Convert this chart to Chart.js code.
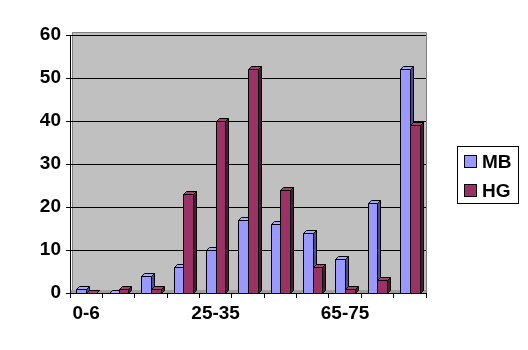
<!DOCTYPE html>
<html>
<head>
<meta charset="utf-8">
<script src="https://cdn.jsdelivr.net/npm/chart.js@4"></script>
<style>
html,body{margin:0;padding:0;background:#fff;}
#wrap{width:528px;height:350px;}
</style>
</head>
<body>
<div id="wrap"><canvas id="c" width="528" height="350"></canvas></div>
<script>
const categories = ["0-6","6-12","12-18","18-25","25-35","35-45","45-55","55-65","65-75","75-85","85+"];
const shownLabels = ["0-6","25-35","65-75"];
const mbValues = [1,0,4,6,10,17,16,14,8,21,52];
const hgValues = [0,1,1,23,40,52,24,6,1,3,39];
const yTicks = [0,10,20,30,40,50,60];

const FONT = "'Liberation Sans', Arial, sans-serif";
const DEPTH = 3;

const styles = {
  MB: {front:'#9999FF', top:'#A8A8FF', side:'#4D4D8F'},
  HG: {front:'#993366', top:'#A3416F', side:'#4D1A33'}
};

const bgPlugin = {
  id:'bg',
  beforeDraw(chart){
    const {ctx, chartArea:a} = chart;
    ctx.save();
    ctx.fillStyle = '#C0C0C0';
    ctx.fillRect(a.left+2, a.top-3, a.right-a.left-2, a.bottom-a.top+3);
    ctx.strokeStyle = '#808080';
    ctx.lineWidth = 1;
    ctx.beginPath();
    ctx.moveTo(a.left+2.5, a.bottom);
    ctx.lineTo(a.left+2.5, a.top-2.5);
    ctx.lineTo(a.right+0.5, a.top-2.5);
    ctx.lineTo(a.right+0.5, a.bottom);
    ctx.stroke();
    ctx.fillStyle = '#A0A0A0';
    ctx.fillRect(a.left, a.bottom-3, a.right-a.left, 3);
    ctx.restore();
  }
};

function drawBar3D(ctx, bar, st){
  const p = bar.getProps(['x','y','base','width'], true);
  const l = Math.round(p.x - p.width/2)+0.5, r = Math.round(p.x + p.width/2)+0.5;
  const t = Math.round(p.y)+0.5, b = Math.round(p.base)+0.5;
  const d = DEPTH;
  ctx.fillStyle = st.front;
  ctx.beginPath();
  ctx.rect(l, t, r-l, b-t);
  ctx.fill(); ctx.stroke();
  ctx.fillStyle = st.top;
  ctx.beginPath();
  ctx.moveTo(l,t); ctx.lineTo(l+d,t-d); ctx.lineTo(r+d,t-d); ctx.lineTo(r,t); ctx.closePath();
  ctx.fill(); ctx.stroke();
  ctx.fillStyle = st.side;
  ctx.beginPath();
  ctx.moveTo(r,t); ctx.lineTo(r+d,t-d); ctx.lineTo(r+d,b-d); ctx.lineTo(r,b); ctx.closePath();
  ctx.fill(); ctx.stroke();
}

const depthPlugin = {
  id:'depth',
  afterDatasetsDraw(chart){
    const ctx = chart.ctx;
    ctx.save();
    ctx.strokeStyle = '#000';
    ctx.lineWidth = 1;
    const metas = chart.data.datasets.map((ds,i) => chart.getDatasetMeta(i));
    categories.forEach((c, j) => {
      metas.forEach((m, i) => {
        drawBar3D(ctx, m.data[j], styles[chart.data.datasets[i].label]);
      });
    });
    ctx.restore();
  }
};

const legendPlugin = {
  id:'customLegend',
  afterDraw(chart){
    const ctx = chart.ctx;
    ctx.save();
    ctx.strokeStyle = '#000';
    ctx.lineWidth = 1;
    ctx.fillStyle = '#fff';
    ctx.fillRect(457.5,146.5,61,57);
    ctx.strokeRect(457.5,146.5,61,57);
    ctx.font = "bold 19px " + FONT;
    ctx.textBaseline = 'middle';
    ctx.textAlign = 'left';
    chart.data.datasets.forEach((ds,i) => {
      const cy = 162 + i*29;
      ctx.fillStyle = styles[ds.label].front;
      ctx.fillRect(464.5, cy-6.5, 12, 12);
      ctx.strokeRect(464.5, cy-6.5, 12, 12);
      ctx.fillStyle = '#000';
      ctx.fillText(ds.label, 482, cy+1);
    });
    ctx.restore();
  }
};

new Chart(document.getElementById('c'), {
  type:'bar',
  data:{
    labels: categories,
    datasets:[
      {label:'MB', data: mbValues, backgroundColor:'rgba(0,0,0,0)', borderWidth:0},
      {label:'HG', data: hgValues, backgroundColor:'rgba(0,0,0,0)', borderWidth:0}
    ]
  },
  options:{
    responsive:false,
    animation:false,
    events:[],
    layout:{padding:{top:35, right:102, left:0, bottom:0}},
    datasets:{bar:{categoryPercentage:0.6, barPercentage:1.0}},
    plugins:{legend:{display:false}, tooltip:{enabled:false}},
    scales:{
      x:{
        grid:{display:true, drawOnChartArea:false, tickLength:5, color:'#000', offset:true},
        border:{display:true, color:'#000'},
        ticks:{
          color:'#000', font:{family:FONT, size:19, weight:'bold'}, padding:4,
          autoSkip:false, maxRotation:0,
          callback(v, i){ const c = categories[i]; return shownLabels.includes(c) ? c : ''; }
        },
        afterFit(s){ s.height = 57; }
      },
      y:{
        min:0, max:60,
        afterBuildTicks(s){ s.ticks = yTicks.map(v => ({value:v})); },
        grid:{color:'#000', tickLength:4, drawTicks:true},
        border:{display:true, color:'#000'},
        ticks:{color:'#000', font:{family:FONT, size:19, weight:'bold'}, padding:5},
        afterFit(s){ s.width = 70; }
      }
    }
  },
  plugins:[bgPlugin, depthPlugin, legendPlugin]
});
</script>
</body>
</html>
